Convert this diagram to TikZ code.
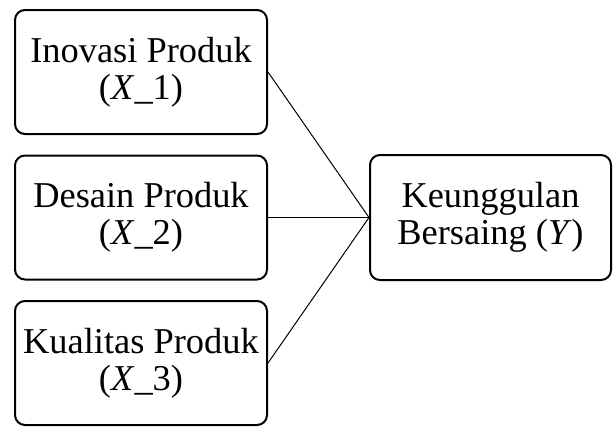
\documentclass[tikz,border=0pt]{standalone}
\usepackage{fontspec}
\setmainfont{Liberation Serif}
\usetikzlibrary{positioning}
\tikzset{
  var/.style={draw, line width=1pt, rounded corners=5pt, align=center,
              minimum width=126pt, minimum height=62pt, inner sep=1pt},
  dep/.style={var, minimum width=120.5pt, minimum height=62.5pt},
  link/.style={draw, line width=0.5pt},
}

\begin{document}
\begin{tikzpicture}[font=\fontsize{18.2}{18.5}\selectfont]

\useasboundingbox (0pt, 0pt) rectangle (307pt, -214pt);

\node[dep] (y) at (245.25pt, -108.75pt) {Keunggulan\\Bersaing (\textit{Y})};

\foreach \i/\name in {1/{Inovasi Produk}, 2/{Desain Produk},
                      3/{Kualitas Produk}} {
    \node[var] (x\i) at (70.5pt, {-36pt-72.75pt*(\i-1)}) {\name\\(\textit{X}\_\i)};
    \draw[link] (x\i.east) -- (y.west);
}

\end{tikzpicture}
\end{document}
